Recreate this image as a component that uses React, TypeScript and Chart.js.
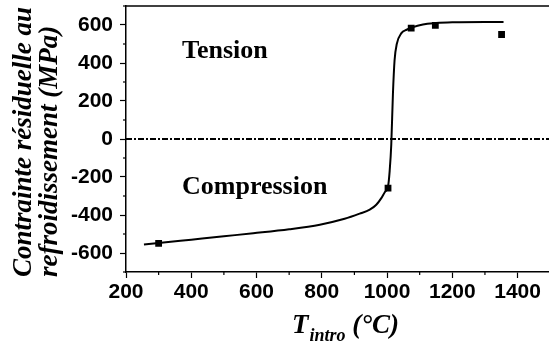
import React, { useEffect, useRef } from "react";
import { Chart, registerables } from "chart.js";

Chart.register(...registerables);

// Fitted curve (temperature °C, stress MPa)
const curveT = [255, 300, 400, 500, 590, 700, 794, 870, 916, 947, 967, 983, 993, 1003, 1008, 1013, 1018, 1023, 1030, 1044, 1060, 1075, 1110, 1150, 1200, 1300, 1357];
const curveS = [-555, -548, -530, -512, -496, -475, -451, -420, -393, -372, -346, -310, -280, -250, -169, -28, 236, 413, 501, 557, 575, 586, 603, 610, 614, 616, 616];

// Measured points
const pointsT = [300, 1003, 1074, 1148, 1351];
const pointsS = [-549, -258, 584, 598, 550];

// Zero reference line
const refT = [200, 1500];
const refS = [0, 0];

const xMin = 200, xMax = 1500, xStep = 100, xMajor = 200;
const yMin = -700, yMax = 700, yStep = 100, yMajor = 200;

const yTitle1 = "Contrainte résiduelle au";
const yTitle2 = "refroidissement (MPa)";
const xTitleMain = "T";
const xTitleSub = "intro";
const xTitleUnit = " (°C)";
const labelTension = "Tension";
const labelCompression = "Compression";

const SERIF = '"Liberation Serif", "Times New Roman", serif';
const SANS = '"Liberation Sans", Arial, sans-serif';

const toXY = (xs: number[], ys: number[]) => xs.map((x, i) => ({ x, y: ys[i] }));

const decorPlugin = {
  id: "decor",
  afterDraw(chart: any) {
    const ctx = chart.ctx;
    const area = chart.chartArea;
    const xs = chart.scales.x;
    const ys = chart.scales.y;
    ctx.save();
    // top border
    ctx.strokeStyle = "#000";
    ctx.lineWidth = 1.5;
    ctx.beginPath();
    ctx.moveTo(area.left, area.top);
    ctx.lineTo(area.right + 2, area.top);
    ctx.stroke();
    // minor ticks
    ctx.lineWidth = 1.2;
    for (let v = xMin; v <= xMax; v += xStep) {
      if (v % xMajor === 0) continue;
      const px = xs.getPixelForValue(v);
      ctx.beginPath();
      ctx.moveTo(px, area.bottom);
      ctx.lineTo(px, area.bottom + 3);
      ctx.stroke();
    }
    for (let v = yMin; v <= yMax; v += yStep) {
      if (v % yMajor === 0) continue;
      const py = ys.getPixelForValue(v);
      ctx.beginPath();
      ctx.moveTo(area.left, py);
      ctx.lineTo(area.left - 3, py);
      ctx.stroke();
    }
    ctx.fillStyle = "#000";
    // annotations
    ctx.font = `bold 26px ${SERIF}`;
    ctx.textAlign = "left";
    ctx.textBaseline = "alphabetic";
    ctx.fillText(labelTension, 182, 58);
    ctx.fillText(labelCompression, 182, 194);
    // y title
    ctx.font = `italic bold 27px ${SERIF}`;
    ctx.save();
    ctx.translate(31, 277);
    ctx.rotate(-Math.PI / 2);
    ctx.fillText(yTitle1, 0, 0);
    ctx.restore();
    ctx.save();
    ctx.translate(57, 277);
    ctx.rotate(-Math.PI / 2);
    ctx.fillText(yTitle2, 0, 0);
    ctx.restore();
    // x title
    let x = 292;
    ctx.font = `italic bold 27px ${SERIF}`;
    ctx.fillText(xTitleMain, x, 333);
    x += ctx.measureText(xTitleMain).width;
    ctx.font = `italic bold 18px ${SERIF}`;
    ctx.fillText(xTitleSub, x + 1, 341);
    x += ctx.measureText(xTitleSub).width + 1;
    ctx.font = `italic bold 27px ${SERIF}`;
    ctx.fillText(xTitleUnit, x, 333);
    ctx.restore();
  },
};

export default function App() {
  const ref = useRef<HTMLCanvasElement>(null);
  useEffect(() => {
    if (!ref.current) return;
    const chart = new Chart(ref.current, {
      type: "line",
      data: {
        datasets: [
          {
            data: toXY(refT, refS),
            borderColor: "#000",
            borderWidth: 2,
            borderDash: [6, 2, 2, 2],
            pointRadius: 0,
            tension: 0,
          },
          {
            data: toXY(curveT, curveS),
            borderColor: "#000",
            borderWidth: 2,
            pointRadius: 0,
            cubicInterpolationMode: "monotone",
          },
          {
            data: toXY(pointsT, pointsS),
            showLine: false,
            pointStyle: "rect",
            pointRadius: 4.8,
            pointBackgroundColor: "#000",
            pointBorderColor: "#000",
            pointBorderWidth: 0,
          },
        ],
      },
      options: {
        responsive: false,
        animation: false,
        layout: { padding: { top: 6, right: 0, left: 0, bottom: 0 } },
        plugins: { legend: { display: false }, tooltip: { enabled: false } },
        scales: {
          x: {
            type: "linear",
            min: xMin,
            max: xMax,
            afterFit: (s: any) => { s.height = 69; s.paddingLeft = 0; s.paddingRight = 0; },
            border: { display: true, color: "#000", width: 1.5 },
            grid: { drawOnChartArea: false, tickLength: 6, color: "#000", tickWidth: 1.2 },
            ticks: {
              stepSize: xStep,
              autoSkip: false,
              maxRotation: 0,
              padding: 2,
              color: "#000",
              font: { family: SANS, size: 21, weight: "bold" },
              callback: (v: any) => (Number(v) % xMajor === 0 ? String(v) : null),
            },
          },
          y: {
            type: "linear",
            min: yMin,
            max: yMax,
            afterFit: (s: any) => { s.width = 126; s.paddingTop = 0; s.paddingBottom = 0; },
            border: { display: true, color: "#000", width: 1.5 },
            grid: { drawOnChartArea: false, tickLength: 6, color: "#000", tickWidth: 1.2 },
            ticks: {
              stepSize: yStep,
              autoSkip: false,
              padding: 7,
              color: "#000",
              font: { family: SANS, size: 21, weight: "bold" },
              callback: (v: any) => (Number(v) % yMajor === 0 ? String(v) : null),
            },
          },
        },
      } as any,
      plugins: [decorPlugin],
    });
    return () => chart.destroy();
  }, []);
  return (
    <div style={{ position: "absolute", left: 0, top: 0, width: 549, height: 341, overflow: "hidden", background: "#fff" }}>
      <canvas ref={ref} width={555} height={341} style={{ display: "block" }} />
    </div>
  );
}
